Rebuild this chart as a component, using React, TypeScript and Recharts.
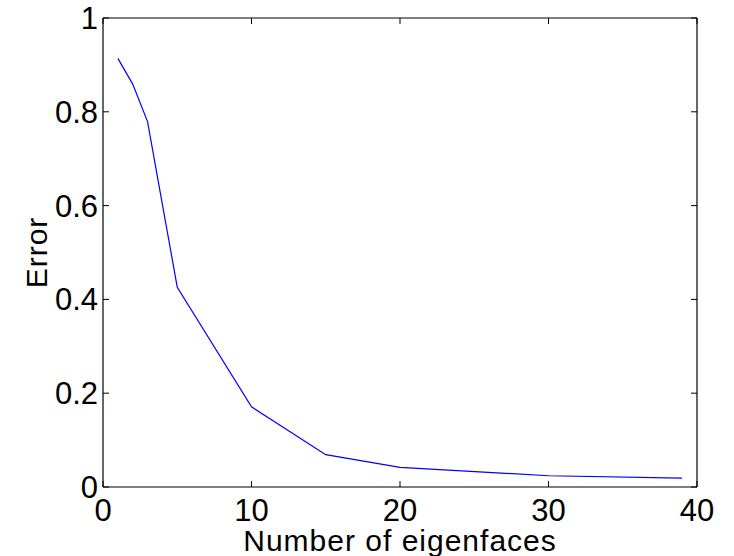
import { LineChart, Line, XAxis, YAxis } from 'recharts';

const eigenfaces = [1, 2, 3, 5, 10, 15, 20, 30, 39];
const errors = [0.914, 0.859, 0.779, 0.426, 0.171, 0.069, 0.042, 0.024, 0.019];
const xTicks = [0, 10, 20, 30, 40];
const yTicks = [0, 0.2, 0.4, 0.6, 0.8, 1];

const data = eigenfaces.map((n, i) => ({ n, error: errors[i] }));

const W = 734;
const H = 556;
const margin = { top: 18, right: 37, left: 43, bottom: 39 };
const Y_AXIS_W = 60;
const X_AXIS_H = 30;
const plotW = W - margin.left - margin.right - Y_AXIS_W;
const plotH = H - margin.top - margin.bottom - X_AXIS_H;

const FAMILY = '"Liberation Sans", Arial, Helvetica, sans-serif';
const TICK_FS = 31;
const LABEL_FS = 30;
const X_GAP = 12;
const Y_GAP = 5;
const TICK_LEN = 6;

const axisStroke = { stroke: '#000', strokeWidth: 1.2 };

// MATLAB-style ticks: label outside, short tick marks inside on both opposite edges
const XTick = ({ x, y, payload }: any) => {
  const axisY = y - X_GAP;
  return (
    <g>
      <line x1={x} x2={x} y1={axisY} y2={axisY - TICK_LEN} stroke="#000" />
      <line x1={x} x2={x} y1={axisY - plotH} y2={axisY - plotH + TICK_LEN} stroke="#000" />
      <text x={x} y={y} dy="0.71em" textAnchor="middle" fill="#000" fontFamily={FAMILY} fontSize={TICK_FS}>
        {payload.value}
      </text>
    </g>
  );
};

const YTick = ({ x, y, payload }: any) => {
  const axisX = x + Y_GAP;
  return (
    <g>
      <line x1={axisX} x2={axisX + TICK_LEN} y1={y} y2={y} stroke="#000" />
      <line x1={axisX + plotW} x2={axisX + plotW - TICK_LEN} y1={y} y2={y} stroke="#000" />
      <text x={x} y={y} dy="0.355em" textAnchor="end" fill="#000" fontFamily={FAMILY} fontSize={TICK_FS}>
        {String(payload.value)}
      </text>
    </g>
  );
};

export default function App() {
  return (
    <div style={{ position: 'absolute', left: 0, top: 0, background: '#fff' }}>
      <LineChart width={W} height={H} data={data} margin={margin}>
        <XAxis
          dataKey="n"
          type="number"
          domain={[0, 40]}
          ticks={xTicks}
          interval={0}
          height={X_AXIS_H}
          tick={XTick}
          tickLine={false}
          tickSize={0}
          tickMargin={X_GAP}
          axisLine={axisStroke}
          label={{
            value: 'Number of eigenfaces',
            position: 'bottom',
            offset: 13,
            fill: '#000',
            fontFamily: FAMILY,
            fontSize: LABEL_FS,
            style: { letterSpacing: '1px' },
          }}
        />
        <XAxis xAxisId="top" orientation="top" type="number" domain={[0, 40]} mirror tick={false} tickLine={false} axisLine={axisStroke} />
        <YAxis
          type="number"
          domain={[0, 1]}
          ticks={yTicks}
          interval={0}
          width={Y_AXIS_W}
          tick={YTick}
          tickLine={false}
          tickSize={0}
          tickMargin={Y_GAP}
          axisLine={axisStroke}
          label={{
            value: 'Error',
            angle: -90,
            position: 'insideLeft',
            offset: -7,
            fill: '#000',
            fontFamily: FAMILY,
            fontSize: LABEL_FS,
            style: { textAnchor: 'middle', letterSpacing: '1px' },
          }}
        />
        <YAxis yAxisId="right" orientation="right" type="number" domain={[0, 1]} mirror tick={false} tickLine={false} axisLine={axisStroke} />
        <Line type="linear" dataKey="error" stroke="#0000ff" strokeWidth={1.2} dot={false} isAnimationActive={false} />
      </LineChart>
    </div>
  );
}
